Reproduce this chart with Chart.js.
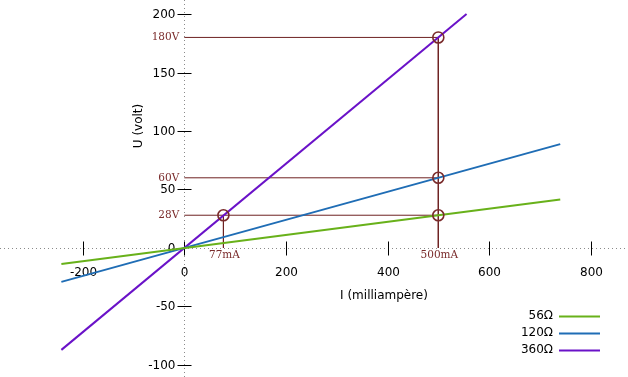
<!DOCTYPE html>
<html><head><meta charset="utf-8">
<script src="https://cdn.jsdelivr.net/npm/chart.js@4/dist/chart.umd.min.js"></script>
<style>html,body{margin:0;padding:0;background:#fff}#wrap{width:628px;height:377px}</style>
</head><body><div id="wrap"><canvas id="c" width="628" height="377"></canvas></div>
<script>
// ---- data ----
const seriesNames = ['56Ω', '120Ω', '360Ω'];
const seriesColors = ['#68b11a', '#1f6db5', '#6a12c8'];
const line56 = [{x: -242, y: -13.6}, {x: 740, y: 41.4}];
const line120 = [{x: -242, y: -29.0}, {x: 740, y: 88.8}];
const line360 = [{x: -242, y: -87.1}, {x: 555.6, y: 200}];
const markPoints = [{x: 500, y: 180}, {x: 500, y: 60}, {x: 500, y: 28}, {x: 77, y: 28}];
const refV180 = [{x: 0, y: 180}, {x: 500, y: 180}, {x: 500, y: 0}];
const refV60 = [{x: 0, y: 60}, {x: 500, y: 60}];
const refV28 = [{x: 0, y: 28}, {x: 500, y: 28}];
const refI77 = [{x: 77, y: 28}, {x: 77, y: 0}];
const yRefLabels = [{v: 180, t: '180V'}, {v: 60, t: '60V'}, {v: 28, t: '28V'}];
const xRefLabels = [{v: 77, t: '77mA'}, {v: 500, t: '500mA'}];
const xTicks = [-200, 0, 200, 400, 600, 800];
const yTicks = [-100, -50, 0, 50, 100, 150, 200];
const xTitle = 'I (milliampère)';
const yTitle = 'U (volt)';
const refColor = '#6e2222';

const axesPlugin = {
  id: 'axesPlugin',
  beforeDatasetsDraw(chart) {
    const ctx = chart.ctx, xs = chart.scales.x, ys = chart.scales.y;
    const x0 = Math.round(xs.getPixelForValue(0)) + 0.5, y0 = Math.round(ys.getPixelForValue(0)) + 0.5;
    ctx.save();
    ctx.strokeStyle = '#8a8a8a'; ctx.lineWidth = 1; ctx.setLineDash([1, 3]);
    ctx.beginPath(); ctx.moveTo(0, y0); ctx.lineTo(628, y0); ctx.stroke();
    ctx.beginPath(); ctx.moveTo(x0, 0); ctx.lineTo(x0, 377); ctx.stroke();
    ctx.setLineDash([]);
    ctx.strokeStyle = '#000';
    ctx.fillStyle = '#000';
    ctx.font = '12px "DejaVu Sans"';
    ctx.textAlign = 'center'; ctx.textBaseline = 'middle';
    xTicks.forEach(v => {
      const px = Math.round(xs.getPixelForValue(v)) + 0.5;
      ctx.beginPath(); ctx.moveTo(px, y0 - 7); ctx.lineTo(px, y0 + 7); ctx.stroke();
      ctx.fillText(String(v), px, y0 + 24);
    });
    ctx.textAlign = 'right';
    yTicks.forEach(v => {
      const py = Math.round(ys.getPixelForValue(v)) + 0.5;
      if (v !== 0) { ctx.beginPath(); ctx.moveTo(x0 - 7, py); ctx.lineTo(x0 + 7, py); ctx.stroke(); }
      ctx.fillText(String(v), x0 - 9, py);
    });
    ctx.textAlign = 'center';
    ctx.fillText(xTitle, 384, 296);
    ctx.save(); ctx.translate(139, 126); ctx.rotate(-Math.PI / 2); ctx.fillText(yTitle, 0, 0); ctx.restore();
    ctx.restore();
  },
  afterDraw(chart) {
    const ctx = chart.ctx, xs = chart.scales.x, ys = chart.scales.y;
    const x0 = xs.getPixelForValue(0), y0 = ys.getPixelForValue(0);
    ctx.save();
    ctx.fillStyle = '#7a2b2b';
    ctx.font = '10.5px "DejaVu Serif"';
    ctx.textBaseline = 'middle';
    ctx.textAlign = 'right';
    yRefLabels.forEach(l => ctx.fillText(l.t, x0 - 5, ys.getPixelForValue(l.v)));
    ctx.textAlign = 'center';
    xRefLabels.forEach(l => ctx.fillText(l.t, xs.getPixelForValue(l.v) + 1, y0 + 7));
    // legend
    ctx.font = '12px "DejaVu Sans"';
    ctx.textAlign = 'right';
    seriesNames.forEach((n, i) => {
      const y = 316 + i * 17;
      ctx.fillStyle = '#000';
      ctx.fillText(n, 553, y);
      ctx.strokeStyle = seriesColors[i]; ctx.lineWidth = 2;
      ctx.beginPath(); ctx.moveTo(559, y + 0.5); ctx.lineTo(600, y + 0.5); ctx.stroke();
    });
    ctx.restore();
  }
};

const refDs = (d) => ({data: d, showLine: true, borderColor: refColor, borderWidth: 1, pointRadius: 0, fill: false, order: 3});
new Chart(document.getElementById('c'), {
  type: 'scatter',
  data: {
    datasets: [
      {label: 'marks', data: markPoints, showLine: false, pointRadius: 5.5, pointBorderWidth: 1.6, pointBorderColor: '#7a2b2b', pointBackgroundColor: 'rgba(0,0,0,0)', order: 0},
      {label: seriesNames[0], data: line56, showLine: true, borderColor: seriesColors[0], borderWidth: 2, pointRadius: 0, order: 1},
      {label: seriesNames[1], data: line120, showLine: true, borderColor: seriesColors[1], borderWidth: 2, pointRadius: 0, order: 1},
      {label: seriesNames[2], data: line360, showLine: true, borderColor: seriesColors[2], borderWidth: 2, pointRadius: 0, order: 1},
      refDs(refV180), refDs(refV60), refDs(refV28), refDs(refI77)
    ]
  },
  options: {
    responsive: false, animation: false,
    layout: {padding: 0, autoPadding: false},
    plugins: {legend: {display: false}, tooltip: {enabled: false}},
    scales: {
      x: {type: 'linear', display: false, min: -362.8, max: 873.4},
      y: {type: 'linear', display: false, min: -110.3, max: 212}
    }
  },
  plugins: [axesPlugin]
});
</script></body></html>
